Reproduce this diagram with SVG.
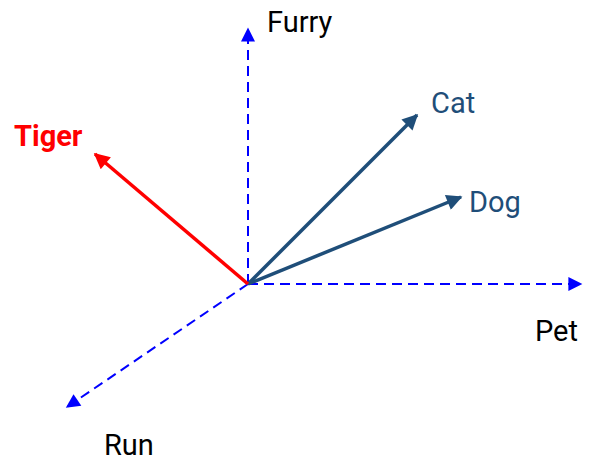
<svg xmlns="http://www.w3.org/2000/svg" width="590" height="469" viewBox="0 0 590 469">
<style>
.axis{stroke:#0000ff;stroke-width:2;stroke-dasharray:10,6;fill:none}
.vec{stroke:#1f4e79;stroke-width:3.5;fill:none}
.tiger{stroke:#ff0000;stroke-width:3.5;fill:none}
.lbl{font-family:Roboto,"Liberation Sans",sans-serif;font-size:29px}
</style>
<defs>
<marker id="ab" viewBox="0 0 10 10" refX="9" refY="5" markerWidth="8" markerHeight="7" markerUnits="strokeWidth" orient="auto"><path d="M0,0L10,5L0,10z" fill="#0000ff"/></marker>
<marker id="av" viewBox="0 0 10 10" refX="9" refY="5" markerWidth="5" markerHeight="4.5" markerUnits="strokeWidth" orient="auto"><path d="M0,0L10,5L0,10z" fill="#1f4e79"/></marker>
<marker id="ar" viewBox="0 0 10 10" refX="9" refY="5" markerWidth="5" markerHeight="4.5" markerUnits="strokeWidth" orient="auto"><path d="M0,0L10,5L0,10z" fill="#ff0000"/></marker>
</defs>
<g id="connectors">
<line class="axis" x1="248" y1="284" x2="248" y2="29" marker-end="url(#ab)"/>
<line class="axis" x1="248" y1="284" x2="581" y2="284" marker-end="url(#ab)"/>
<line class="axis" x1="248" y1="284" x2="67" y2="407" marker-end="url(#ab)"/>
<line class="vec" x1="248" y1="284" x2="417" y2="115" marker-end="url(#av)"/>
<line class="vec" x1="248" y1="284" x2="461" y2="197" marker-end="url(#av)"/>
<line class="tiger" x1="248" y1="284" x2="95" y2="154" marker-end="url(#ar)"/>
</g>
<g id="furry"><text class="lbl" x="267" y="32" fill="#000">Furry</text></g>
<g id="pet"><text class="lbl" x="535" y="341" fill="#000">Pet</text></g>
<g id="run"><text class="lbl" x="104" y="455" fill="#000">Run</text></g>
<g id="cat"><text class="lbl" x="431" y="113" fill="#1f4e79">Cat</text></g>
<g id="dog"><text class="lbl" x="469" y="212" fill="#1f4e79">Dog</text></g>
<g id="tiger"><text class="lbl" x="14" y="146" fill="#ff0000" font-weight="bold">Tiger</text></g>
</svg>
